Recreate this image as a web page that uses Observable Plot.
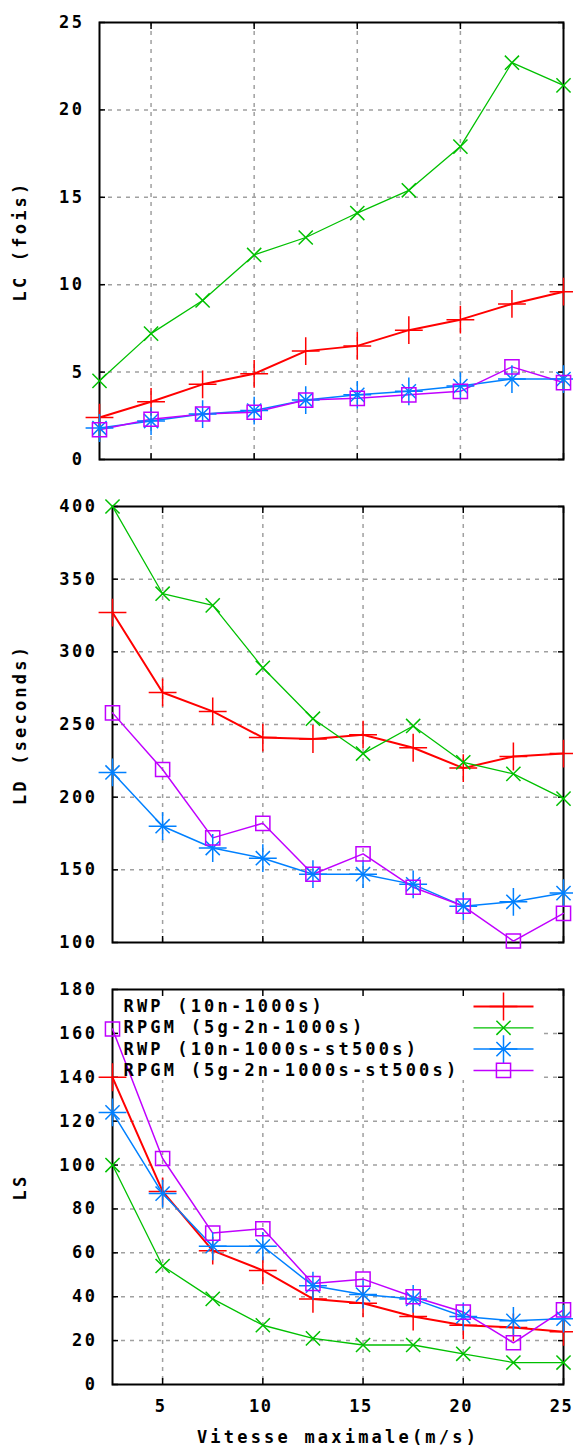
<!DOCTYPE html>
<html>
<head>
<meta charset="utf-8">
<script src="https://cdn.jsdelivr.net/npm/d3@7"></script>
<script src="https://cdn.jsdelivr.net/npm/@observablehq/plot@0.6"></script>
<style>
html, body { margin: 0; padding: 0; background: #fff; overflow: hidden; }
#chart svg { display: block; }
#chart svg g[aria-label="text"] text { letter-spacing: 3.2px; }
#chart svg g[aria-label="x-axis tick label"] text { letter-spacing: 1.5px; }
</style>
</head>
<body>
<div id="chart"></div>
<script>
// ---- Data ----
const speeds = [2.5, 5, 7.5, 10, 12.5, 15, 17.5, 20, 22.5, 25];
const seriesNames = ["RWP (10n-1000s)", "RPGM (5g-2n-1000s)", "RWP (10n-1000s-st500s)", "RPGM (5g-2n-1000s-st500s)"];
const seriesColors = ["#ff0000", "#00c000", "#0080ff", "#c000ff"];

// LC (fois)
const lcRWP      = [2.4, 3.3, 4.3, 4.9, 6.2, 6.5, 7.4, 8.0, 8.9, 9.6];
const lcRPGM     = [4.5, 7.2, 9.1, 11.7, 12.7, 14.1, 15.4, 17.9, 22.7, 21.4];
const lcRWPst    = [1.8, 2.2, 2.6, 2.8, 3.4, 3.7, 3.9, 4.2, 4.6, 4.6];
const lcRPGMst   = [1.7, 2.3, 2.6, 2.7, 3.4, 3.5, 3.7, 3.9, 5.3, 4.4];

// LD (seconds)
const ldRWP      = [327, 272, 259, 241, 240, 243, 234, 220, 228, 230];
const ldRPGM     = [400, 340, 332, 289, 254, 230, 249, 224, 216, 199];
const ldRWPst    = [217, 180, 165, 158, 147, 147, 140, 125, 128, 134];
const ldRPGMst   = [258, 219, 172, 182, 147, 161, 138, 125, 101, 120];

// LS
const lsRWP      = [140, 88, 61, 52, 39, 37, 31, 27, 26, 24];
const lsRPGM     = [100, 54, 39, 27, 21, 18, 18, 14, 10, 10];
const lsRWPst    = [124, 87, 63, 63, 45, 41, 39, 31, 29, 30];
const lsRPGMst   = [162, 103, 69, 71, 46, 48, 40, 33, 19, 34];

const xTicks = [5, 10, 15, 20, 25];
const lcTicks = [0, 5, 10, 15, 20, 25];
const ldTicks = [100, 150, 200, 250, 300, 350, 400];
const lsTicks = [0, 20, 40, 60, 80, 100, 120, 140, 160, 180];

const xLabel = "Vitesse maximale(m/s)";

// ---- Styling helpers ----
const lineWidths = [2, 1.3, 1.5, 1.5];
const markerSets = [[["plus", 9]], [["times", 6.5]], [["plus", 9], ["times", 6.5]], [["square2", 9]]];
const legendLine = {draw(context) { context.moveTo(-30, 0); context.lineTo(30, 0); }};

function buildPanel({series, yDomain, yTicks, height, marginTop, marginBottom, marginLeft, ylabel, showX, legend}) {
  const rows = seriesNames.flatMap((name, i) => speeds.map((x, j) => ({series: name, x, y: series[i][j]})));
  const gridStyle = {stroke: "#a0a0a0", strokeOpacity: 1, strokeWidth: 1.5, strokeDasharray: "4,5"};
  const marks = [
    Plot.gridY(yTicks.slice(1, -1), gridStyle),
    Plot.gridX(xTicks.slice(0, -1), gridStyle)
  ];
  if (legend) {
    marks.push((index, scales, values, dims) => {
      return d3.create("svg:rect")
        .attr("x", dims.marginLeft)
        .attr("y", dims.marginTop)
        .attr("width", dims.width - dims.marginLeft - dims.marginRight - 22)
        .attr("height", 91)
        .attr("fill", "white")
        .node();
    });
  }
  // inward ticks
  marks.push(
    Plot.axisY(yTicks, {anchor: "left", tickSize: 6, dx: 6, fill: "none", label: null, stroke: "black", strokeWidth: 1.5}),
    Plot.axisY(yTicks, {anchor: "right", tickSize: 6, dx: -6, fill: "none", label: null, stroke: "black", strokeWidth: 1.5}),
    Plot.axisX(xTicks, {anchor: "bottom", tickSize: 6, dy: -6, fill: "none", label: null, stroke: "black", strokeWidth: 1.5}),
    Plot.axisX(xTicks, {anchor: "top", tickSize: 6, dy: 6, fill: "none", label: null, stroke: "black", strokeWidth: 1.5}),
    Plot.axisY(yTicks, {anchor: "left", tickSize: 0, tickPadding: 15, label: null})
  );
  if (showX) {
    marks.push(
      Plot.axisX(xTicks, {anchor: "bottom", tickSize: 0, tickPadding: 15, label: null, dx: -2}),
      Plot.text([xLabel], {frameAnchor: "bottom", text: d => d, dy: 53, lineAnchor: "middle"})
    );
  }
  marks.push(
    Plot.text([ylabel], {frameAnchor: "left", text: d => d, rotate: -90, dx: -(marginLeft - 20), lineAnchor: "middle", textAnchor: "middle"}),
    Plot.frame({stroke: "black", strokeWidth: 2})
  );
  seriesNames.forEach((name, i) => {
    marks.push(Plot.line(rows, {filter: d => d.series === name, x: "x", y: "y", stroke: seriesColors[i], strokeWidth: lineWidths[i]}));
  });
  seriesNames.forEach((name, i) => {
    markerSets[i].forEach(([sym, r]) => {
      marks.push(Plot.dot(rows, {filter: d => d.series === name, x: "x", y: "y", symbol: sym, r, stroke: seriesColors[i], fill: "none", strokeWidth: 1.5}));
    });
  });
  if (legend) {
    seriesNames.forEach((name, i) => {
      const dy = 17 + 21.3 * i;
      marks.push(
        Plot.text([name], {frameAnchor: "top-left", text: d => d, dx: 11, dy, textAnchor: "start", lineAnchor: "middle"}),
        Plot.dot([name], {frameAnchor: "top-right", dx: -60, dy, symbol: legendLine, r: 5, stroke: seriesColors[i], strokeWidth: lineWidths[i]})
      );
      markerSets[i].forEach(([sym, r]) => {
        marks.push(Plot.dot([name], {frameAnchor: "top-right", dx: -60, dy, symbol: sym, r, stroke: seriesColors[i], fill: "none", strokeWidth: 1.5}));
      });
    });
  }
  return Plot.plot({
    width: 573,
    height,
    marginTop,
    marginBottom,
    marginLeft,
    marginRight: 10,
    x: {type: "linear", domain: [2.5, 25]},
    y: {type: "linear", domain: yDomain},
    style: {fontFamily: "'DejaVu Sans Mono', monospace", fontSize: "17px", fontWeight: "bold", letterSpacing: "2.5px", background: "white", color: "black", overflow: "visible"},
    marks
  });
}

const chart = document.getElementById("chart");
chart.append(buildPanel({
  series: [lcRWP, lcRPGM, lcRWPst, lcRPGMst], yDomain: [0, 25], yTicks: lcTicks,
  height: 480, marginTop: 22, marginBottom: 21, marginLeft: 99, ylabel: "LC (fois)", showX: false, legend: false
}));
chart.append(buildPanel({
  series: [ldRWP, ldRPGM, ldRWPst, ldRPGMst], yDomain: [100, 400], yTicks: ldTicks,
  height: 480, marginTop: 26, marginBottom: 18, marginLeft: 112, ylabel: "LD (seconds)", showX: false, legend: false
}));
chart.append(buildPanel({
  series: [lsRWP, lsRPGM, lsRWPst, lsRPGMst], yDomain: [0, 180], yTicks: lsTicks,
  height: 492, marginTop: 29, marginBottom: 68, marginLeft: 112, ylabel: "LS", showX: true, legend: true
}));
</script>
</body>
</html>
